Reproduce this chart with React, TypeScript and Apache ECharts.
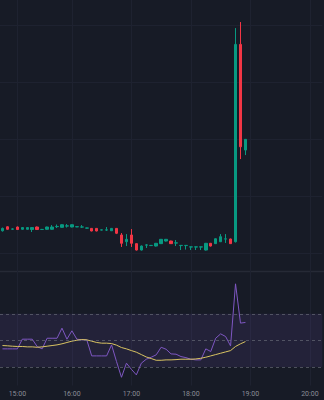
import React, { useEffect, useRef } from "react";
import * as echarts from "echarts";

const BG = "#171b26";

const times = [
  "14:45", "14:50", "14:55", "15:00", "15:05", "15:10", "15:15", "15:20", "15:25", "15:35",
  "15:40", "15:45", "15:50", "15:55", "16:00", "16:05", "16:10", "16:15", "16:20", "16:25",
  "16:30", "16:35", "16:40", "16:45", "16:50", "16:55", "17:00", "17:05", "17:10", "17:15",
  "17:20", "17:25", "17:30", "17:35", "17:40", "17:45", "17:50", "17:55", "18:00", "18:05",
  "18:10", "18:15", "18:20", "18:25", "18:30", "18:35", "18:40", "18:45", "18:50", "18:55",
  "19:00", "19:05", "19:10", "19:15", "19:20", "19:25", "19:30", "19:35", "19:40", "19:45",
  "19:50", "19:55", "20:00", "20:05", "20:10",
];

const hourLabels = ["15:00", "16:00", "17:00", "18:00", "19:00", "20:00"];

// [open, close, low, high]
const candles: number[][] = [
  [1.195, 1.216, 1.188, 1.223],
  [1.230, 1.208, 1.204, 1.234],
  [1.209, 1.211, 1.204, 1.216],
  [1.228, 1.206, 1.202, 1.232],
  [1.208, 1.223, 1.204, 1.226],
  [1.208, 1.223, 1.205, 1.226],
  [1.206, 1.223, 1.184, 1.226],
  [1.228, 1.206, 1.202, 1.232],
  [1.206, 1.207, 1.202, 1.211],
  [1.208, 1.228, 1.204, 1.231],
  [1.208, 1.228, 1.204, 1.245],
  [1.231, 1.233, 1.219, 1.250],
  [1.225, 1.248, 1.222, 1.251],
  [1.236, 1.238, 1.223, 1.254],
  [1.228, 1.248, 1.225, 1.251],
  [1.229, 1.231, 1.227, 1.233],
  [1.227, 1.229, 1.219, 1.245],
  [1.218, 1.220, 1.214, 1.223],
  [1.216, 1.193, 1.190, 1.219],
  [1.216, 1.193, 1.190, 1.219],
  [1.201, 1.203, 1.198, 1.206],
  [1.201, 1.203, 1.193, 1.228],
  [1.195, 1.216, 1.193, 1.219],
  [1.216, 1.173, 1.166, 1.219],
  [1.158, 1.085, 1.053, 1.175],
  [1.099, 1.120, 1.061, 1.166],
  [1.158, 1.085, 1.053, 1.210],
  [1.082, 1.026, 1.022, 1.085],
  [1.026, 1.061, 1.022, 1.066],
  [1.069, 1.071, 1.044, 1.078],
  [1.065, 1.067, 1.061, 1.070],
  [1.061, 1.085, 1.057, 1.088],
  [1.082, 1.120, 1.079, 1.123],
  [1.105, 1.120, 1.101, 1.123],
  [1.105, 1.082, 1.079, 1.108],
  [1.087, 1.089, 1.061, 1.114],
  [1.065, 1.067, 1.026, 1.068],
  [1.065, 1.067, 1.030, 1.068],
  [1.052, 1.054, 1.026, 1.055],
  [1.052, 1.054, 1.026, 1.055],
  [1.052, 1.054, 1.026, 1.055],
  [1.026, 1.085, 1.022, 1.088],
  [1.085, 1.061, 1.057, 1.088],
  [1.082, 1.125, 1.079, 1.128],
  [1.099, 1.143, 1.096, 1.166],
  [1.122, 1.124, 1.088, 1.166],
  [1.123, 1.082, 1.079, 1.126],
  [1.099, 2.830, 1.092, 2.973],
  [2.830, 1.932, 1.824, 3.026],
  [1.903, 1.997, 1.859, 2.000],
];

const rsi = [
  43.6, 43.6, 43.6, 43.6, 50.9, 50.9, 50.9, 45.3, 43.6, 51.6,
  51.6, 51.6, 59.2, 50.9, 57.2, 50.9, 50.4, 50.4, 38.3, 38.3,
  38.3, 38.3, 46.6, 34.0, 22.2, 32.8, 28.2, 24.0, 32.8, 35.8,
  37.3, 39.1, 44.8, 43.3, 39.8, 39.6, 37.8, 37.0, 35.8, 35.3,
  35.3, 43.6, 41.6, 51.6, 54.9, 52.9, 45.8, 92.6, 63.0, 63.5,
];

const rsiMa = [
  46.1, 45.9, 45.6, 45.4, 45.4, 45.1, 45.1, 44.8, 45.1, 45.6,
  46.1, 46.6, 47.4, 48.4, 49.4, 50.1, 50.6, 50.4, 49.4, 48.4,
  47.9, 47.9, 47.6, 46.4, 44.6, 43.6, 42.3, 41.1, 39.3, 37.5,
  36.3, 35.0, 35.0, 35.3, 35.3, 35.5, 35.8, 35.8, 35.8, 36.0,
  36.5, 37.3, 38.3, 39.3, 40.3, 41.3, 42.3, 45.4, 47.4, 49.1,
];

const rsiLevels = [70, 50, 30];

export default function App() {
  const ref = useRef<HTMLDivElement>(null);

  useEffect(() => {
    const chart = echarts.init(ref.current!, null, { renderer: "svg" });
    const isHour = (_i: number, v: string) => hourLabels.includes(v);
    const gridColor = "#1e2230";
    const candleData = times.map((_, i) => (candles[i] ? candles[i] : "-"));

    chart.setOption({
      animation: false,
      backgroundColor: BG,
      grid: [
        { left: 0, right: 1.7, top: 0, height: 310 },
        { left: 0, right: 1.7, top: 274, height: 111.5 },
      ],
      xAxis: [
        {
          type: "category",
          gridIndex: 0,
          data: times,
          boundaryGap: true,
          axisLine: { show: false },
          axisTick: { show: false },
          axisLabel: { show: false },
          splitLine: {
            show: true,
            interval: isHour,
            alignWithLabel: true,
            lineStyle: { color: gridColor, width: 1 },
          },
        },
        {
          type: "category",
          gridIndex: 1,
          data: times,
          boundaryGap: true,
          axisLine: { show: false },
          axisTick: { show: false },
          axisLabel: {
            interval: isHour,
            color: "#8a8d97",
            fontSize: 7,
            fontFamily: "Roboto",
            margin: 5,
          },
          splitLine: {
            show: true,
            interval: isHour,
            alignWithLabel: true,
            lineStyle: { color: gridColor, width: 1 },
          },
        },
      ],
      yAxis: [
        {
          type: "value",
          gridIndex: 0,
          min: 0.5,
          max: 3.2193,
          interval: 0.5,
          position: "right",
          axisLine: { show: false },
          axisTick: { show: false },
          axisLabel: { show: false },
          splitLine: {
            show: true,
            showMinLine: false,
            showMaxLine: false,
            lineStyle: { color: gridColor, width: 1 },
          },
        },
        {
          type: "value",
          gridIndex: 1,
          min: 16,
          max: 100,
          position: "right",
          axisLine: { show: false },
          axisTick: { show: false },
          axisLabel: { show: false },
          splitLine: { show: false },
        },
      ],
      graphic: [
        {
          type: "line",
          shape: { x1: 0, y1: 271.5, x2: 324, y2: 271.5 },
          style: { stroke: "#262a36", lineWidth: 1.5 },
          silent: true,
        },
      ],
      series: [
        {
          type: "candlestick",
          xAxisIndex: 0,
          yAxisIndex: 0,
          data: candleData,
          barWidth: 3,
          itemStyle: {
            color: "#089981",
            color0: "#f23645",
            borderColor: "#089981",
            borderColor0: "#f23645",
            borderWidth: 1,
          },
        },
        {
          type: "line",
          name: "RSI",
          xAxisIndex: 1,
          yAxisIndex: 1,
          data: rsi,
          showSymbol: false,
          lineStyle: { color: "#7e57c2", width: 1 },
          markArea: {
            silent: true,
            itemStyle: { color: "rgba(126,87,194,0.12)" },
            data: [[{ yAxis: 30 }, { yAxis: 70 }]],
          },
          markLine: {
            silent: true,
            symbol: "none",
            label: { show: false },
            lineStyle: { color: "rgba(120,123,134,0.55)", type: [3, 3], width: 1 },
            data: rsiLevels.map((v) => ({ yAxis: v })),
          },
          z: 3,
        },
        {
          type: "line",
          name: "RSI MA",
          xAxisIndex: 1,
          yAxisIndex: 1,
          data: rsiMa,
          showSymbol: false,
          lineStyle: { color: "#d9c462", width: 1 },
          z: 4,
        },
      ],
    });

    return () => chart.dispose();
  }, []);

  return (
    <div
      ref={ref}
      style={{ position: "fixed", left: 0, top: 0, width: 324, height: 400, background: BG }}
    />
  );
}
